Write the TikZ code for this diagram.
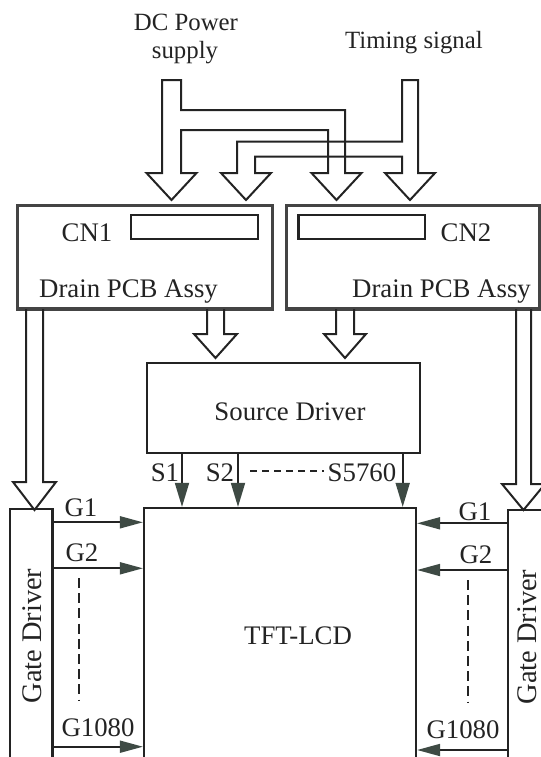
\documentclass[tikz,border=0pt]{standalone}
\usepackage{fontspec}
\setmainfont{Liberation Serif}
\usetikzlibrary{arrows.meta}
\definecolor{ink}{RGB}{35,35,35}
\definecolor{tipgray}{RGB}{62,74,68}
\begin{document}
\begin{tikzpicture}[x=.5pt,y=-.5pt,
                    pcb/.style={draw=ink!85,line width=1.8pt,inner sep=0pt},
                    blk/.style={draw=ink,line width=1.1pt,inner sep=0pt},
                    hollow/.style={draw=ink,line width=1pt,line join=miter},
                    sig/.style={draw=ink,line width=.9pt,-{Triangle[length=12pt,width=7pt,color=tipgray]}},
                    gsig/.style={draw=ink,line width=.9pt,-{Triangle[length=11.5pt,width=6pt,color=tipgray]}},
                    dots/.style={draw=ink,line width=1pt,dash pattern=on 5pt off 2.6pt},
                    txt/.style={text=ink,inner sep=0pt,font=\fontsize{13.4}{15}\selectfont},
                    small/.style={text=ink,inner sep=0pt,font=\fontsize{12.4}{14}\selectfont}]
 \useasboundingbox (0,0) rectangle (541,757);
 \clip (0,0) rectangle (541,757);
 % blocks
 \node[pcb,minimum width=127.6pt,minimum height=51.8pt] (drainL) at (145,257.3) {};
 \node[pcb,minimum width=126.6pt,minimum height=51.8pt] (drainR) at (413,257.3) {};
 \node[blk,minimum width=63.5pt,minimum height=12.2pt] (cn1) at (194.5,227) {};
 \node[blk,minimum width=63.3pt,minimum height=12.2pt] (cn2) at (361.8,227) {};
 \node[blk,minimum width=136.8pt,minimum height=44.9pt] (src) at (283.5,408) {};
 \node[blk,minimum width=136pt,minimum height=146pt] (lcd) at (280,654) {};
 \node[blk,minimum width=21.2pt,minimum height=146pt] (gateL) at (31.2,655) {};
 \node[blk,minimum width=26.2pt,minimum height=146pt] (gateR) at (534,656) {};
 % texts
 \node[small,anchor=base] (dcA) at (186,30.7) {DC Power};
 \node[small,anchor=base] (dcB) at (185,58) {supply};
 \node[small,anchor=base] (tim) at (414,48.3) {Timing signal};
 \node[txt,anchor=base] (cn1t) at (87,241.5) {CN1};
 \node[txt,anchor=base] (cn2t) at (466,241.5) {CN2};
 \node[txt,anchor=base] (drainLt) at (128.5,297.5) {Drain PCB Assy};
 \node[txt,anchor=base] (drainRt) at (441.5,297.5) {Drain PCB Assy};
 \node[txt,anchor=base] (srct) at (290,420.8) {Source Driver};
 \node[txt,anchor=base] (lcdt) at (298,644.5) {TFT-LCD};
 \node[txt,font=\fontsize{14.2}{16}\selectfont,rotate=90] (gateLt) at (32.5,636) {Gate Driver};
 \node[txt,font=\fontsize{14.2}{16}\selectfont,rotate=90] (gateRt) at (527.5,637) {Gate Driver};
 % power and timing buses
 \draw[hollow] (162,80) -- (181,80) -- (181,110) -- (345,110) -- (345,173) -- (361.5,173)
   -- (336.5,200) -- (311.5,173) -- (328,173) -- (328,130) -- (181,130) -- (181,173)
   -- (196.5,173) -- (171.5,200) -- (146.5,173) -- (162,173) -- cycle;
 \draw[hollow] (402,80) -- (418,80) -- (418,173) -- (435,173) -- (410,200) -- (385,173)
   -- (402,173) -- (402,156.7) -- (255,156.7) -- (255,173) -- (271,173) -- (246,200)
   -- (221,173) -- (237,173) -- (237,141.7) -- (402,141.7) -- cycle;
 % PCB outputs
 \draw[hollow] (26,309) -- (26,482) -- (13,482) -- (34.5,510) -- (56,482) -- (43,482) -- (43,309);
 \draw[hollow] (207,309) -- (207,334) -- (194,334) -- (215.5,358) -- (237,334) -- (224,334) -- (224,309);
 \draw[hollow] (336,309) -- (336,334) -- (324,334) -- (345,358) -- (366,334) -- (354,334) -- (354,309);
 \draw[hollow] (516,309) -- (516,484) -- (502,484) -- (523.5,510) -- (545,484) -- (531,484) -- (531,309);
 % source lines
 \coordinate (s1) at (182,0); \coordinate (s2) at (238,0); \coordinate (sn) at (402.7,0);
 \draw[sig] (src.south -| s1) -- (lcd.north -| s1);
 \draw[sig] (src.south -| s2) -- (lcd.north -| s2);
 \draw[sig] (src.south -| sn) -- (lcd.north -| sn);
 \node[txt,anchor=base] (s1t) at (165,481.5) {S1};
 \node[txt,anchor=base] (s2t) at (220,481.5) {S2};
 \node[txt,anchor=base] (snt) at (362,481.5) {S5760};
 \draw[dots,dash pattern=on 3.6pt off 2.4pt] (250,471) -- (324,471);
 % gate lines, left
 \coordinate (gl1) at (0,522.3); \coordinate (gl2) at (0,568.3); \coordinate (gln) at (0,746.7);
 \draw[gsig] (gateL.east |- gl1) -- (lcd.west |- gl1);
 \draw[gsig] (gateL.east |- gl2) -- (lcd.west |- gl2);
 \draw[gsig] (gateL.east |- gln) -- (lcd.west |- gln);
 \node[txt,anchor=base] (gl1t) at (81,516.7) {G1};
 \node[txt,anchor=base] (gl2t) at (82,561.7) {G2};
 \node[txt,anchor=base] (glnt) at (98,736) {G1080};
 \draw[dots] (79,578) -- (79,700);
 % gate lines, right
 \coordinate (gr1) at (0,523.3); \coordinate (gr2) at (0,570); \coordinate (grn) at (0,750);
 \draw[gsig] (gateR.west |- gr1) -- (lcd.east |- gr1);
 \draw[gsig] (gateR.west |- gr2) -- (lcd.east |- gr2);
 \draw[gsig] (gateR.west |- grn) -- (lcd.east |- grn);
 \node[txt,anchor=base] (gr1t) at (475,520) {G1};
 \node[txt,anchor=base] (gr2t) at (476,563) {G2};
 \node[txt,anchor=base] (grnt) at (463,738) {G1080};
 \draw[dots] (467.7,580) -- (467.7,701.7);
\end{tikzpicture}
\end{document}
